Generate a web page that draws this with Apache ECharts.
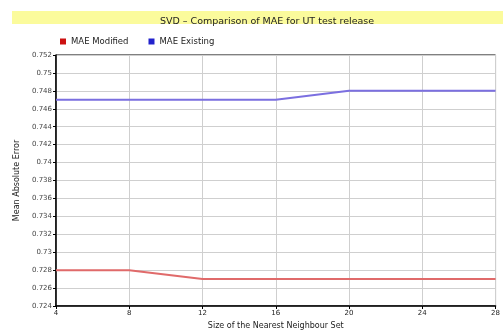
<!DOCTYPE html>
<html><head><meta charset="utf-8">
<script src="https://cdn.jsdelivr.net/npm/echarts@6/dist/echarts.min.js"></script>
<style>html,body{margin:0;padding:0;background:#fff}#c{width:503px;height:335px}</style>
</head><body><div id="c"></div>
<script>
const titleText = 'SVD – Comparison of MAE for UT test release';
const neighbourSizes = [4, 8, 12, 16, 20, 24, 28];
const maeModified = [0.728, 0.728, 0.727, 0.727, 0.727, 0.727, 0.727];
const maeExisting = [0.747, 0.747, 0.747, 0.747, 0.748, 0.748, 0.748];
const seriesNames = ['MAE Modified', 'MAE Existing'];
const yMin = 0.724, yMax = 0.752, yStep = 0.002;

const chart = echarts.init(document.getElementById('c'));
const font = 'DejaVu Sans';
chart.setOption({
  animation: false,
  textStyle: {fontFamily: font},
  graphic: [{type: 'rect', shape: {x: 12, y: 11, width: 491, height: 13}, style: {fill: '#fbfb9c'}, z: -1}],
  title: {text: titleText, left: 262, textAlign: 'center', top: 11.5,
    textStyle: {fontSize: 9.5, fontWeight: 'normal', color: '#222', fontFamily: font}},
  legend: {data: seriesNames, left: 55, top: 32, icon: 'rect', itemWidth: 6, itemHeight: 6, itemGap: 20,
    textStyle: {fontSize: 8.5, color: '#222', padding: [0, 0, 0, 0]}},
  grid: {left: 56, right: 4, top: 55, bottom: 29, show: true, borderColor: '#000', borderWidth: 1},
  xAxis: {type: 'value', min: 4, max: 28, interval: 4,
    name: 'Size of the Nearest Neighbour Set', nameLocation: 'middle', nameGap: 16,
    nameTextStyle: {fontSize: 8, color: '#222'},
    axisLine: {lineStyle: {color: '#000', width: 1.5}},
    axisTick: {show: true, length: 3, lineStyle: {color: '#000'}},
    axisLabel: {fontSize: 7, color: '#222', margin: 4},
    splitLine: {show: true, lineStyle: {color: '#cfcfcf'}}},
  yAxis: {type: 'value', min: yMin, max: yMax, interval: yStep,
    name: 'Mean Absolute Error', nameLocation: 'middle', nameGap: 29,
    nameTextStyle: {fontSize: 8, color: '#222'},
    axisLine: {show: true, lineStyle: {color: '#000', width: 1.5}},
    axisTick: {show: true, length: 3, lineStyle: {color: '#000'}},
    axisLabel: {fontSize: 7, color: '#444', margin: 4},
    splitLine: {show: true, lineStyle: {color: '#cfcfcf'}}},
  series: [
    {name: seriesNames[0], type: 'line', data: neighbourSizes.map((x, i) => [x, maeModified[i]]),
      showSymbol: false, lineStyle: {color: '#e06a6a', width: 2}, itemStyle: {color: '#cc1111', borderColor: '#600'}},
    {name: seriesNames[1], type: 'line', data: neighbourSizes.map((x, i) => [x, maeExisting[i]]),
      showSymbol: false, lineStyle: {color: '#7b6fe0', width: 2}, itemStyle: {color: '#2222cc', borderColor: '#006'}}
  ]
});
</script></body></html>
